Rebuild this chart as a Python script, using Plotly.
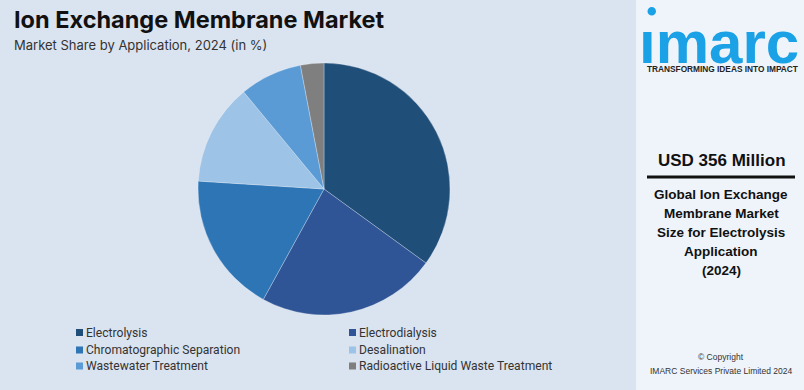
import plotly.graph_objects as go

W, H = 804, 390

# ---- data ----
labels = ["Electrolysis", "Electrodialysis", "Chromatographic Separation",
          "Desalination", "Wastewater Treatment", "Radioactive Liquid Waste Treatment"]
shares = [35, 23, 18, 13, 8, 3]
colors = ["#1f4e79", "#2f5597", "#2e75b6", "#9dc3e6", "#5b9bd5", "#7f7f7f"]

title_text = "Ion Exchange Membrane Market"
subtitle_text = "Market Share by Application, 2024 (in %)"
headline_value = "USD 356 Million"
headline_desc = ["Global Ion Exchange", "Membrane Market", "Size for Electrolysis",
                 "Application", "(2024)"]

BG = "#dae3f0"

def px(x):
    return x / W

def py(y):
    return 1 - y / H

fig = go.Figure()
fig.add_trace(go.Pie(
    labels=labels, values=shares, sort=False, direction="clockwise", rotation=0,
    marker=dict(colors=colors, line=dict(color="rgba(255,255,255,0.35)", width=0.8)),
    textinfo="none", hoverinfo="label+percent",
    domain=dict(x=[px(198), px(450)], y=[py(315), py(63)]),
    showlegend=False,
))

shapes = []
annotations = []

# right panel
shapes.append(dict(type="rect", xref="paper", yref="paper", x0=px(636), x1=1, y0=0, y1=1,
                   fillcolor="#eef4fa", line=dict(width=0), layer="below"))

# title & subtitle
annotations.append(dict(text="<b>" + title_text + "</b>", x=px(12), y=py(19), xref="paper", yref="paper",
                        xanchor="left", yanchor="middle", showarrow=False,
                        font=dict(family="Inter", size=23.5, color="#111111")))
annotations.append(dict(text=subtitle_text, x=px(12), y=py(45), xref="paper", yref="paper",
                        xanchor="left", yanchor="middle", showarrow=False,
                        font=dict(family="Inter", size=13, color="#333333")))

# legend (two columns)
col_x = [76, 349]
row_y = [332.5, 350, 366]
for i, (lab, col) in enumerate(zip(labels, colors)):
    cx = col_x[i % 2]
    ry = row_y[i // 2]
    shapes.append(dict(type="rect", xref="paper", yref="paper",
                       x0=px(cx), x1=px(cx + 7), y0=py(ry + 3.5), y1=py(ry - 3.5),
                       fillcolor=col, line=dict(width=0)))
    annotations.append(dict(text=lab, x=px(cx + 8), y=py(ry), xref="paper", yref="paper",
                            xanchor="left", yanchor="middle", showarrow=False,
                            font=dict(family="Roboto", size=12.1, color="#333333")))

# logo
annotations.append(dict(text="<b>ımarc</b>", x=px(719), y=py(42), xref="paper", yref="paper",
                        xanchor="center", yanchor="middle", showarrow=False,
                        font=dict(family="Liberation Sans", size=60, color="#1ba1e6")))
shapes.append(dict(type="circle", xref="paper", yref="paper",
                   x0=px(647.5), x1=px(656), y0=py(15.5), y1=py(7),
                   fillcolor="#1ba1e6", line=dict(width=0)))
annotations.append(dict(text="<b>TRANSFORMING IDEAS INTO IMPACT</b>", x=px(722), y=py(68.5),
                        xref="paper", yref="paper", xanchor="center", yanchor="middle",
                        showarrow=False, font=dict(family="Liberation Sans", size=8.3, color="#222222")))

# headline
annotations.append(dict(text="<b>" + headline_value + "</b>", x=px(722), y=py(160), xref="paper", yref="paper",
                        xanchor="center", yanchor="middle", showarrow=False,
                        font=dict(family="Liberation Sans", size=17, color="#111111")))
shapes.append(dict(type="line", xref="paper", yref="paper", x0=px(647), x1=px(795),
                   y0=py(177), y1=py(177), line=dict(color="#111111", width=3)))
for k, line in enumerate(headline_desc):
    annotations.append(dict(text="<b>" + line + "</b>", x=px(721), y=py(194 + 19.2 * k),
                            xref="paper", yref="paper", xanchor="center", yanchor="middle",
                            showarrow=False, font=dict(family="Liberation Sans", size=13.5, color="#111111")))

# copyright
annotations.append(dict(text="© Copyright", x=px(721), y=py(357), xref="paper", yref="paper",
                        xanchor="center", yanchor="middle", showarrow=False,
                        font=dict(family="Liberation Sans", size=8.5, color="#333333")))
annotations.append(dict(text="IMARC Services Private Limited 2024", x=px(721), y=py(371),
                        xref="paper", yref="paper", xanchor="center", yanchor="middle",
                        showarrow=False, font=dict(family="Liberation Sans", size=8.5, color="#333333")))

fig.update_layout(
    width=W, height=H, margin=dict(l=0, r=0, t=0, b=0),
    paper_bgcolor=BG, plot_bgcolor=BG,
    shapes=shapes, annotations=annotations,
)

fig.write_html("out.html", config={"displayModeBar": False},
               post_script="document.body.style.margin='0';document.body.style.padding='0';")
